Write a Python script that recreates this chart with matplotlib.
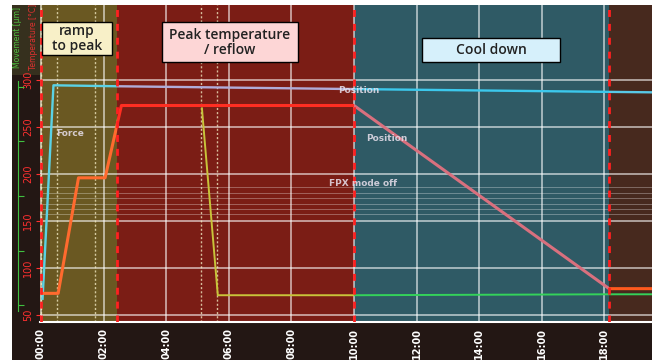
import matplotlib.pyplot as plt
from matplotlib.patches import Rectangle

# time axis (minutes)
time_ticks = [0, 2, 4, 6, 8, 10, 12, 14, 16, 18]
time_labels = ["00:00", "02:00", "04:00", "06:00", "08:00",
               "10:00", "12:00", "14:00", "16:00", "18:00"]
temp_ticks = [50, 100, 150, 200, 250, 300]

# process phases: boundaries and labels
phase_edges = [-0.1, 2.43, 10.0, 18.15, 19.6]
phase_names = ["ramp\nto peak", "Peak temperature\n/ reflow", "Cool down"]

# temperature profile [°C]
temp_t = [0.0, 0.55, 1.2, 2.05, 2.57, 10.0, 18.15, 19.6]
temp_v = [73, 73, 196, 196, 273, 273, 78, 78]

# bond head position
pos_t = [0.05, 0.4, 2.43, 10.0, 18.15, 19.6]
pos_v = [66, 294.5, 293.5, 290.5, 287.5, 287]

# bond force
force_t = [5.14, 5.65, 10.0, 18.15, 19.6]
force_v = [271, 71, 71, 72, 72]

# event markers
events = [0.0, 0.5, 1.72, 5.1, 5.62]

ylo, yhi = 42.5, 380
xlo, xhi = -0.03, 19.52

fig = plt.figure(figsize=(6.52, 3.6), dpi=100)
fig.patch.set_facecolor("white")
# dark screen surround
fig.add_artist(Rectangle((12/652, 0), 1, 1 - 5/360, transform=fig.transFigure,
                         facecolor="#231714", edgecolor="none", zorder=0))
fig.add_artist(Rectangle((12/652, 1 - 75/360), 28/652, 70/360, transform=fig.transFigure,
                         facecolor="#36301e", edgecolor="none", zorder=0))

ax = fig.add_axes([40/652, 38/360, 612/652, 317/360])
ax.set_xlim(xlo, xhi)
ax.set_ylim(ylo, yhi)

bg = ["#6a5822", "#7b1d15", "#2f5a65", "#47291e"]
for (x0, x1), c in zip(zip(phase_edges[:-1], phase_edges[1:]), bg):
    ax.axvspan(x0, x1, color=c, zorder=0, lw=0)

# grid
for t in time_ticks:
    ax.axvline(t, color="white", alpha=0.7, lw=1.1, zorder=1)
for v in temp_ticks:
    ax.axhline(v, color="white", alpha=0.7, lw=1.1, zorder=1)
for v in [186, 180, 174, 168, 163, 157]:
    ax.axhline(v, color="white", alpha=0.3, lw=0.7, zorder=1)
for t in events:
    ax.axvline(t, color="#f0e8c0", alpha=0.8, lw=1.0, ls=(0, (1.5, 1.5)), zorder=1)


def phase_line(x, y, colors, lw, z):
    for x0, x1, c in zip(phase_edges[:-1], phase_edges[1:], colors):
        ln, = ax.plot(x, y, color=c, lw=lw, zorder=z, solid_capstyle="butt")
        ln.set_clip_path(Rectangle((x0, ylo), x1 - x0, yhi - ylo, transform=ax.transData))


phase_line(force_t, force_v, ["#c8c43a", "#c8c43a", "#34d25a", "#34d25a"], 1.4, 3)
phase_line(pos_t, pos_v, ["#5ad2e6", "#b0acd8", "#3cc8ec", "#58c8e6"], 1.7, 4)
phase_line(temp_t, temp_v, ["#ff6a2e", "#ff2e22", "#d9707e", "#ff5a1e"], 2.2, 5)

# phase boundaries
for t in phase_edges[:-1]:
    ax.axvline(max(t, 0.0), color="#ff2020", lw=2, ls=(0, (2.5, 2.5)), zorder=6)

# phase label boxes
boxes = [(0.03, 326.6, 2.24, 35.1, "#f8f0c8"),
         (3.87, 319.0, 4.34, 42.7, "#fdd6d6"),
         (12.17, 319.0, 4.41, 25.7, "#d6f0fb")]
for (x0, y0, w, h, fc), name in zip(boxes, phase_names):
    ax.add_patch(Rectangle((x0, y0), w, h, facecolor=fc, edgecolor="black",
                           lw=1.0, zorder=7))
    ax.text(x0 + w / 2, y0 + h / 2, name, ha="center", va="center", fontsize=10,
            family="Open Sans", fontweight="semibold", color="#222222",
            linespacing=1.05, zorder=8)

# curve annotations
note = dict(fontsize=6.5, color="#e8e0ec", alpha=0.85, family="DejaVu Sans",
            fontweight="bold", zorder=8)
ax.text(0.5, 241, "Force", **note)
ax.text(9.5, 286, "Position", **note)
ax.text(10.4, 235, "Position", **note)
ax.text(9.2, 187, "FPX mode off", **note)

# axes styling
for s in ["top", "right"]:
    ax.spines[s].set_visible(False)
ax.spines["bottom"].set_color("white")
ax.spines["bottom"].set_linewidth(1.5)
ax.spines["left"].set_visible(False)

ax.set_xticks(time_ticks)
ax.set_xticklabels(time_labels, rotation=90, color="white", fontsize=7,
                   fontweight="bold")
ax.tick_params(axis="x", length=0, pad=4)
ax.set_yticks(temp_ticks)
ax.set_yticklabels([str(v) for v in temp_ticks], rotation=90, color="#ff3030",
                   fontsize=7, va="center")
ax.tick_params(axis="y", length=3, color="#ff3030", pad=2)

# movement axis
ax2 = ax.twinx()
ax2.set_ylim(-0.31, 5.5)
ax2.set_yticks([0, 1, 2, 3, 4])
ax2.set_yticklabels([])
ax2.yaxis.set_ticks_position("left")
ax2.spines["left"].set_position(("outward", 16))
ax2.spines["left"].set_color("#40c040")
ax2.spines["left"].set_bounds(-0.1, 4.1)
for s in ["top", "right", "bottom"]:
    ax2.spines[s].set_visible(False)
ax2.tick_params(axis="y", color="#40c040", length=4, direction="in")

fig.text(18/652, 1 - 37/360, "Movement [µm]", rotation=90, color="#50c040",
         fontsize=5.5, ha="center", va="center")
fig.text(33/652, 1 - 37/360, "Temperature [°C]", rotation=90, color="#e03030",
         fontsize=5.5, ha="center", va="center")

fig.savefig("out.png", dpi=100)
